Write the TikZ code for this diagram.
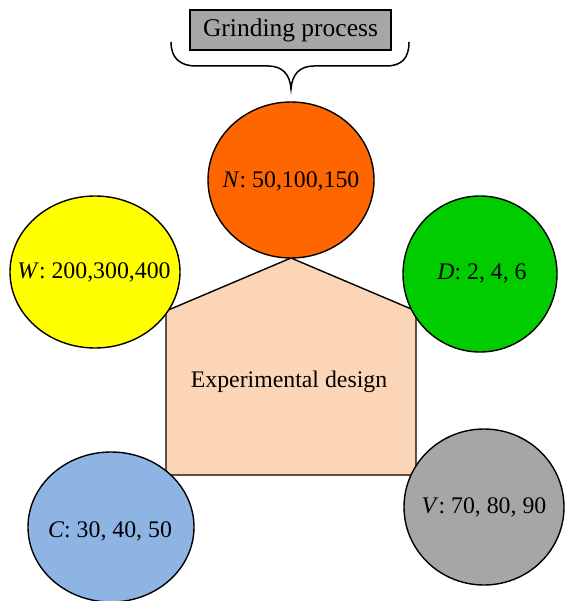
\documentclass[tikz,border=0pt]{standalone}
\usepackage{fontspec}
\setmainfont{Liberation Serif}
\definecolor{cN}{HTML}{FF6600}
\definecolor{cW}{HTML}{FFFF00}
\definecolor{cD}{HTML}{00CC00}
\definecolor{cC}{HTML}{8EB4E3}
\definecolor{cV}{HTML}{A6A6A6}
\definecolor{cP}{HTML}{FBD5B5}
\definecolor{cG}{HTML}{A6A6A6}
\begin{document}
\begin{tikzpicture}[x=1pt,y=-1pt,
  lbl/.style={font=\fontsize{23.8}{28}\selectfont},
  factor/.style={draw=black,line width=1.4pt},
  ]
\useasboundingbox (0,0) rectangle (567,601);
% pentagon
\filldraw[factor,fill=cP,line join=miter]
  (291,258) coordinate (apex) -- (166,311) -- (166,475) -- (416,475) -- (416,311) -- cycle;
\node[lbl] (exp) at (289,382) {Experimental design};
% ellipses
\filldraw[factor,fill=cN] (291,180) ellipse [x radius=83, y radius=78];
\node[lbl] (N) at (291,181) {\textit{N}: 50,100,150};
\filldraw[factor,fill=cW] (95,272) ellipse [x radius=85, y radius=76];
\node[lbl] (W) at (94,272) {\textit{W}: 200,300,400};
\filldraw[factor,fill=cD] (480,274) ellipse [x radius=77, y radius=78];
\node[lbl] (D) at (482,273) {\textit{D}: 2, 4, 6};
\filldraw[factor,fill=cC] (111,527) ellipse [x radius=83, y radius=75];
\node[lbl] (C) at (110,531) {\textit{C}: 30, 40, 50};
\filldraw[factor,fill=cV] (484,507) ellipse [x radius=80, y radius=78];
\node[lbl] (V) at (484,507) {\textit{V}: 70, 80, 90};
% grinding process
\node[factor,fill=cG,minimum width=201pt,minimum height=40pt,inner sep=0pt,
  font=\fontsize{25.5}{30}\selectfont] (G) at (290.5,30) {Grinding process};
% brace
\draw[line width=1.5pt]
  (171,42) .. controls (171,58) and (180,66) .. (196,66) -- (268,66)
  .. controls (282,66) and (290,74) .. (291,89)
  .. controls (292,74) and (300,66) .. (314,66) -- (386,66)
  .. controls (402,66) and (409,58) .. (409,42);
\end{tikzpicture}
\end{document}
